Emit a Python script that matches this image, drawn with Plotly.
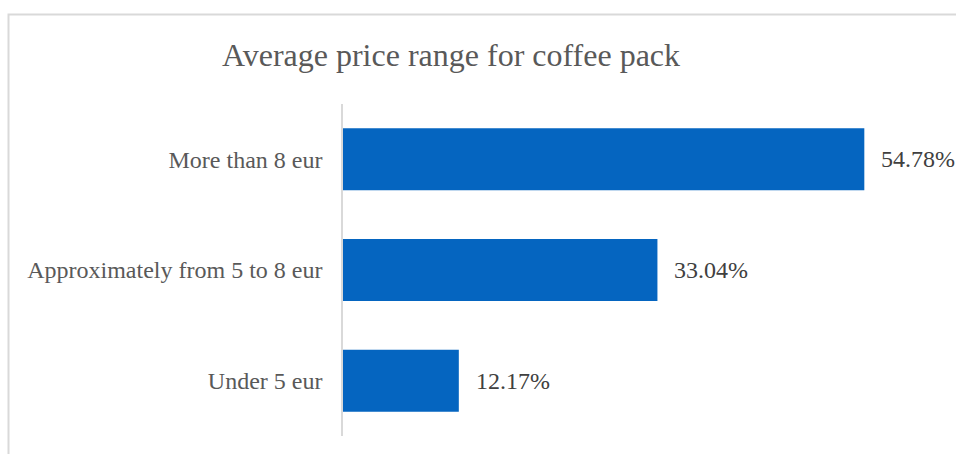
import plotly.graph_objects as go

# Survey answers: average price range paid for a pack of coffee
categories = ["More than 8 eur", "Approximately from 5 to 8 eur", "Under 5 eur"]
shares = [54.78, 33.04, 12.17]
title_text = "Average price range for coffee pack"

SERIF = "Liberation Serif"

W, H = 956, 454
left, right, top, bottom = 343, 42, 104, 18
plot_w = W - left - right
plot_h = H - top - bottom
x_max = 60

fig = go.Figure(
    go.Bar(
        x=shares,
        y=categories,
        orientation="h",
        marker=dict(color="#0565C0", line=dict(width=0)),
        hoverinfo="skip",
    )
)

# value labels to the right of each bar
for cat, v in zip(categories, shares):
    fig.add_annotation(
        x=v, y=cat, xref="x", yref="y",
        text=f"{v:.2f}%",
        showarrow=False,
        xanchor="left", yanchor="middle",
        xshift=15,
        font=dict(family=SERIF, size=24, color="#404040"),
    )

# light chart-area frame (top and left edges visible)
def px_to_paper_x(px):
    return (px - left) / plot_w

def px_to_paper_y(py):
    return (H - bottom - py) / plot_h

fig.add_shape(
    type="rect", xref="paper", yref="paper",
    x0=px_to_paper_x(8.5), x1=px_to_paper_x(W + 20),
    y0=px_to_paper_y(H + 20), y1=px_to_paper_y(14.5),
    line=dict(color="#d9d9d9", width=2),
    fillcolor="rgba(0,0,0,0)",
    layer="below",
)

fig.update_layout(
    width=W, height=H,
    margin=dict(l=left, r=right, t=top, b=bottom, autoexpand=False),
    paper_bgcolor="white",
    plot_bgcolor="white",
    bargap=0.44,
    showlegend=False,
    font=dict(family=SERIF),
    title=dict(
        text=title_text,
        x=451 / W, xanchor="center", xref="container",
        y=1 - 55 / H, yanchor="middle", yref="container",
        font=dict(family=SERIF, size=32, color="#595959"),
    ),
    xaxis=dict(
        range=[0, x_max],
        visible=False,
        showgrid=False,
        zeroline=False,
        fixedrange=True,
    ),
    yaxis=dict(
        autorange="reversed",
        showline=True,
        linecolor="#d9d9d9",
        linewidth=1.5,
        showgrid=False,
        ticks="outside",
        ticklen=14,
        tickcolor="rgba(0,0,0,0)",
        tickfont=dict(family=SERIF, size=24, color="#595959"),
        fixedrange=True,
    ),
)

fig.write_html("out.html")
